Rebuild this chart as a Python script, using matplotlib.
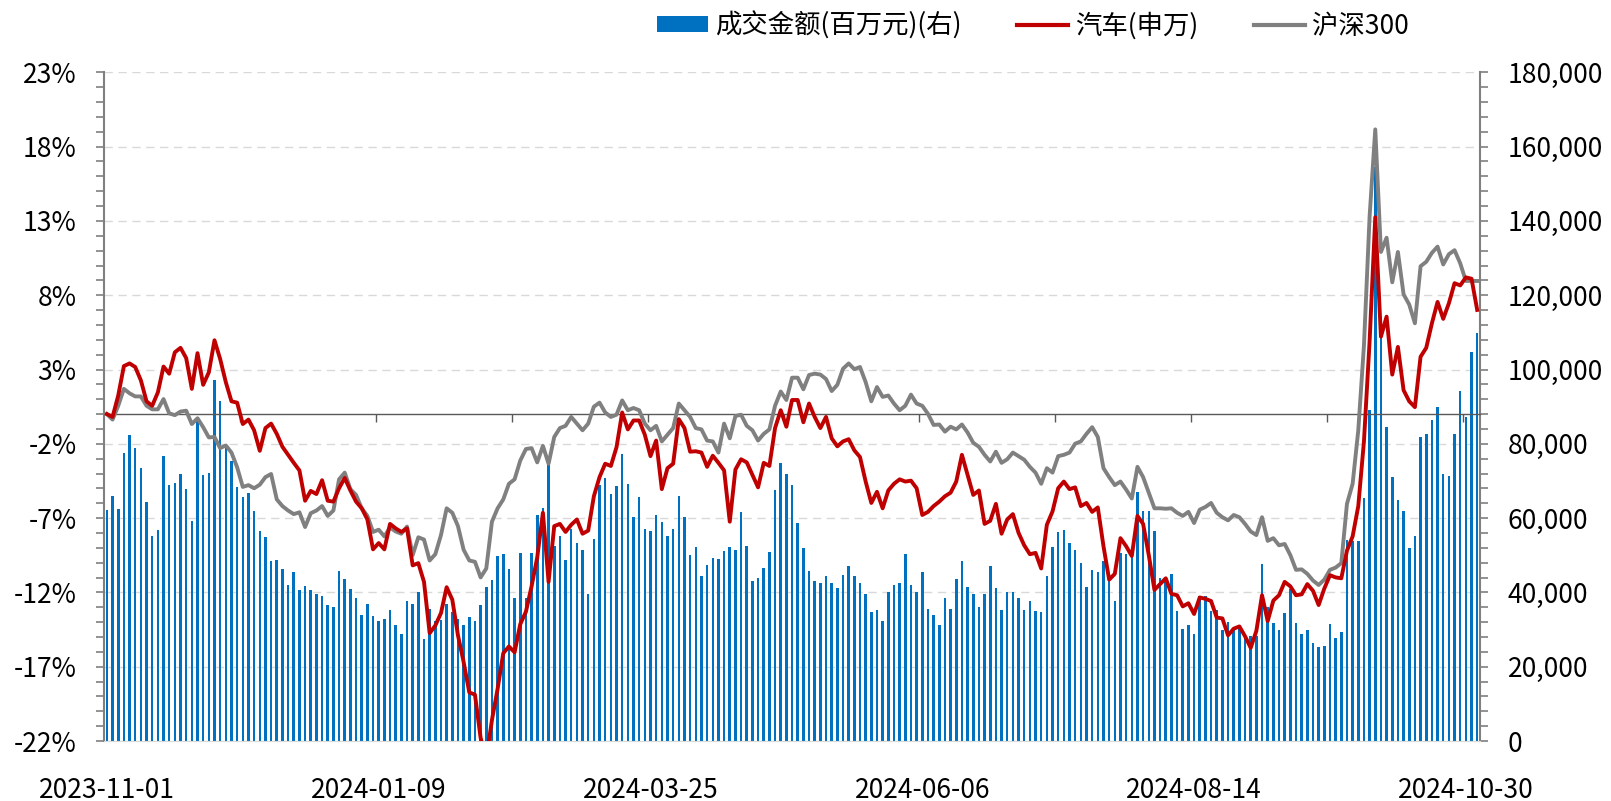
import numpy as np
import matplotlib
matplotlib.use('Agg')
import matplotlib.pyplot as plt
from matplotlib.ticker import MultipleLocator, FuncFormatter
from matplotlib.patches import Patch
from matplotlib.lines import Line2D

plt.rcParams['font.family'] = ['Noto Sans CJK SC', 'DejaVu Sans']

# x axis: 243 trading days, label every 48th day
tick_labels = ['2023-11-01', '2024-01-09', '2024-03-25', '2024-06-06', '2024-08-14', '2024-10-30']
tick_step = 48

# 成交金额 (百万元), right axis
amount = [
    62300, 66000, 62500, 77500, 82400, 78800, 73400, 64400, 55300, 56800,
    76800, 68800, 69500, 71800, 67800, 59200, 86300, 71600, 72100, 97300,
    91600, 78800, 75500, 68400, 65800, 66700, 61800, 56400, 54800, 48500,
    48800, 46200, 41900, 45600, 40700, 41800, 40700, 39600, 38900, 36700,
    36100, 45700, 43700, 40800, 38400, 34000, 36800, 33700, 32300, 32900,
    35300, 31100, 28700, 37600, 37000, 40000, 27400, 35400, 32400, 32500,
    36800, 34800, 32800, 31200, 33400, 32400, 36700, 41400, 43300, 49700,
    50300, 46400, 38400, 50600, 38600, 50600, 60800, 62600, 74600, 52400,
    55300, 48600, 57000, 53400, 51500, 39700, 54500, 69000, 70900, 66600,
    68600, 77300, 69100, 60200, 65800, 57200, 56400, 60800, 58900, 55100,
    57000, 65900, 60400, 50200, 52100, 44300, 47300, 49300, 49000, 51200,
    52200, 51500, 61600, 52600, 43100, 43900, 46600, 50800, 67700, 74800,
    72000, 68800, 58800, 52000, 45700, 43100, 42500, 44400, 42600, 41300,
    44800, 47000, 44400, 42600, 39600, 34600, 35200, 32300, 40200, 41900,
    42600, 50300, 42000, 40200, 45500, 35600, 34000, 31300, 38500, 35400,
    43700, 48500, 41500, 39600, 36000, 39700, 47200, 41200, 35300, 40200,
    40200, 38500, 35200, 37600, 35000, 34800, 44300, 52200, 56300, 56800,
    53400, 51500, 47900, 41400, 46100, 45400, 48400, 43400, 37700, 50500,
    50400, 49600, 67100, 61900, 61800, 56400, 44000, 44000, 44900, 34900,
    30100, 31300, 28700, 38900, 38900, 34900, 35200, 30000, 32000, 30000,
    30800, 28400, 28300, 28400, 47600, 36200, 31800, 29900, 34400, 40800,
    31700, 28800, 30000, 26500, 25200, 25700, 31400, 27700, 29400, 54200,
    53900, 53900, 65400, 89000, 154400, 110000, 84500, 71200, 64800, 61800,
    52000, 55200, 81800, 82700, 86500, 89900, 71900, 71400, 82700, 94200,
    87200, 104600, 109800,
]

# 汽车(申万) cumulative change, %
auto = [
    0.00, -0.19, 1.25, 3.23, 3.41, 3.17, 2.27, 0.86, 0.56, 1.46,
    3.20, 2.72, 4.16, 4.46, 3.77, 1.70, 4.10, 1.97, 2.81, 4.97,
    3.71, 2.15, 0.86, 0.77, -0.67, -0.37, -1.09, -2.47, -0.94, -0.64,
    -1.33, -2.20, -2.74, -3.28, -3.79, -5.83, -5.17, -5.38, -4.45, -5.83,
    -5.89, -4.99, -4.30, -5.14, -5.89, -6.34, -7.09, -9.10, -8.68, -9.10,
    -7.39, -7.69, -7.93, -7.69, -10.18, -10.03, -11.29, -14.74, -14.23, -13.39,
    -11.65, -12.49, -14.89, -16.69, -18.73, -18.88, -21.79, -23.20, -20.59, -18.49,
    -16.09, -15.64, -16.03, -14.14, -13.30, -11.59, -9.64, -6.64, -11.29, -7.54,
    -7.39, -7.93, -7.45, -7.09, -8.05, -7.84, -5.53, -4.24, -3.34, -3.49,
    -2.23, 0.11, -1.03, -0.43, -0.43, -1.39, -2.83, -1.78, -5.05, -3.64,
    -3.34, -0.34, -0.94, -2.53, -2.50, -2.59, -3.55, -2.80, -3.28, -3.79,
    -7.24, -3.73, -3.04, -3.25, -4.09, -4.93, -3.28, -3.49, -0.94, 0.26,
    -0.85, 0.95, 0.95, -0.55, 0.71, -0.19, -0.94, -0.19, -1.63, -2.17,
    -1.84, -1.69, -2.44, -2.89, -4.54, -5.98, -5.23, -6.34, -5.14, -4.69,
    -4.39, -4.54, -4.48, -4.99, -6.79, -6.58, -6.19, -5.89, -5.53, -5.29,
    -4.54, -2.74, -4.09, -5.44, -5.14, -7.39, -7.18, -6.04, -8.05, -7.09,
    -6.73, -7.99, -8.83, -9.43, -9.34, -10.39, -7.45, -6.55, -4.99, -4.54,
    -5.05, -4.93, -6.19, -5.98, -6.58, -6.28, -8.89, -11.14, -10.75, -8.35,
    -8.89, -9.55, -6.85, -7.39, -9.49, -11.83, -11.44, -11.05, -12.10, -12.19,
    -12.94, -12.73, -13.45, -12.34, -12.43, -12.58, -13.69, -13.75, -14.89, -14.44,
    -14.29, -14.95, -15.73, -14.59, -12.19, -13.93, -12.55, -12.19, -11.29, -11.59,
    -12.19, -12.13, -11.44, -11.89, -12.85, -11.74, -10.84, -10.99, -11.05, -9.19,
    -8.23, -6.19, -1.84, 4.91, 13.25, 5.21, 6.56, 2.66, 4.52, 1.61,
    0.86, 0.47, 3.86, 4.46, 6.11, 7.55, 6.41, 7.46, 8.81, 8.66,
    9.20, 9.11, 7.01,
]

# 沪深300 cumulative change, %
hs300 = [
    0.00, -0.37, 0.56, 1.70, 1.40, 1.19, 1.19, 0.56, 0.32, 0.32,
    1.01, 0.05, -0.07, 0.17, 0.23, -0.67, -0.28, -0.88, -1.57, -1.54,
    -2.29, -2.11, -2.59, -3.58, -4.90, -4.78, -4.99, -4.75, -4.24, -4.03,
    -5.74, -6.19, -6.49, -6.73, -6.61, -7.60, -6.67, -6.49, -6.19, -6.85,
    -6.49, -4.39, -3.94, -5.05, -5.44, -6.34, -6.85, -7.93, -7.78, -8.23,
    -7.63, -7.90, -8.05, -7.57, -9.49, -8.29, -8.44, -9.85, -9.43, -8.14,
    -6.34, -6.64, -7.54, -9.13, -9.85, -9.94, -10.99, -10.39, -7.24, -6.34,
    -5.74, -4.69, -4.39, -3.13, -2.35, -2.29, -3.25, -2.14, -3.34, -1.54,
    -0.94, -0.79, -0.19, -0.64, -1.09, -0.64, 0.50, 0.77, 0.11, -0.19,
    -0.04, 0.92, 0.26, 0.41, 0.26, -0.64, -1.09, -0.79, -1.84, -1.39,
    -0.94, 0.71, 0.26, -0.19, -0.94, -1.03, -1.78, -1.84, -2.59, -0.64,
    -1.63, -0.13, -0.04, -0.79, -1.09, -1.78, -1.33, -1.03, 0.56, 1.52,
    0.95, 2.45, 2.45, 1.67, 2.63, 2.72, 2.66, 2.36, 1.55, 1.97,
    3.05, 3.41, 3.02, 3.17, 2.15, 0.86, 1.82, 1.16, 1.25, 0.71,
    0.26, 0.56, 1.31, 0.71, 0.56, 0.02, -0.73, -0.70, -1.18, -0.85,
    -1.03, -0.70, -1.24, -1.93, -2.20, -2.74, -3.19, -2.53, -3.28, -3.04,
    -2.59, -2.83, -3.07, -3.55, -3.94, -4.69, -3.64, -3.94, -2.83, -2.74,
    -2.59, -1.99, -1.84, -1.33, -0.88, -1.54, -3.64, -4.24, -4.78, -4.54,
    -5.08, -5.68, -3.55, -4.24, -5.29, -6.34, -6.34, -6.37, -6.34, -6.64,
    -6.85, -6.58, -7.33, -6.43, -6.25, -5.98, -6.64, -6.94, -7.15, -6.79,
    -6.94, -7.39, -7.90, -8.14, -6.94, -8.53, -8.35, -8.83, -8.74, -9.49,
    -10.48, -10.45, -10.75, -11.20, -11.50, -11.14, -10.48, -10.33, -10.03, -6.04,
    -4.69, -1.09, 4.61, 13.31, 19.16, 10.91, 11.87, 8.87, 10.91, 8.06,
    7.37, 6.11, 9.95, 10.25, 10.85, 11.27, 10.07, 10.76, 11.03, 10.15,
    8.96, 8.96, 8.96,
]

BLUE = '#0070C0'
RED = '#C00000'
GREY = '#808080'
AXC = '#7F7F7F'

x = np.arange(len(amount))

fig = plt.figure(figsize=(16.11, 8.01), dpi=100)
ax = fig.add_axes([0.0646, 0.0749, 0.8541, 0.8348])
ax2 = ax.twinx()

# bars on the right axis, behind the lines
ax2.bar(x, amount, width=0.45, color=BLUE, zorder=2)
ax2.set_ylim(0, 180000)
ax2.yaxis.set_major_locator(MultipleLocator(20000))
ax2.yaxis.set_minor_locator(MultipleLocator(4000))
ax2.yaxis.set_major_formatter(FuncFormatter(lambda v, p: f'{v:,.0f}'))
ax2.grid(axis='y', color='#D9D9D9', linestyle=(0, (6, 4)), lw=1)
ax2.set_axisbelow(True)
ax2.tick_params(axis='y', which='both', direction='out', length=5.8, width=1.2,
                color=AXC, labelsize=19, pad=14)
for s in ['left', 'top', 'bottom']:
    ax2.spines[s].set_visible(False)
ax2.spines['right'].set_color(AXC)
ax2.spines['right'].set_linewidth(1.5)

ax.set_zorder(ax2.get_zorder() + 1)
ax.patch.set_visible(False)
ax.plot(x, hs300, color=GREY, lw=2.8, zorder=3)
ax.plot(x, auto, color=RED, lw=2.8, zorder=4)
ax.set_ylim(-22, 23)
ax.set_yticks(np.arange(-22, 24, 5))
ax.yaxis.set_minor_locator(MultipleLocator(1))
ax.yaxis.set_major_formatter(FuncFormatter(lambda v, p: f'{v:.0f}%'))
ax.tick_params(axis='y', which='both', direction='out', length=5.8, width=1.2,
               color=AXC, labelsize=19, pad=14)
ax.set_xlim(-0.5, len(x) - 0.5)
ax.set_xticks(np.arange(0, len(x), tick_step))
ax.set_xticklabels(tick_labels)
ax.tick_params(axis='x', length=0, labelsize=19, pad=26)
ax.spines['top'].set_visible(False)
ax.spines['right'].set_visible(False)
ax.spines['left'].set_color(AXC)
ax.spines['left'].set_linewidth(1.5)
ax.spines['bottom'].set_color('#D9D9D9')

# category axis line at 0% with tick marks between categories
sec = ax.secondary_xaxis(0, transform=ax.transData)
sec.set_xticks(np.arange(tick_step / 2 - 0.5, len(x), tick_step / 2))
sec.tick_params(axis='x', direction='out', length=6, width=1, color='#595959',
                labelbottom=False, labeltop=False)
for s in ['top', 'bottom']:
    sec.spines[s].set_color('#595959')
    sec.spines[s].set_linewidth(1)

handles = [Patch(facecolor=BLUE),
           Line2D([], [], color=RED, lw=3),
           Line2D([], [], color=GREY, lw=3)]
fig.legend(handles, ['成交金额(百万元)(右)', '汽车(申万)', '沪深300'],
           loc='center', bbox_to_anchor=(0.641, 0.968), ncol=3, frameon=False,
           fontsize=19, handlelength=1.95, handleheight=0.55,
           handletextpad=0.25, columnspacing=2.1)

fig.savefig('out.png', dpi=100)
